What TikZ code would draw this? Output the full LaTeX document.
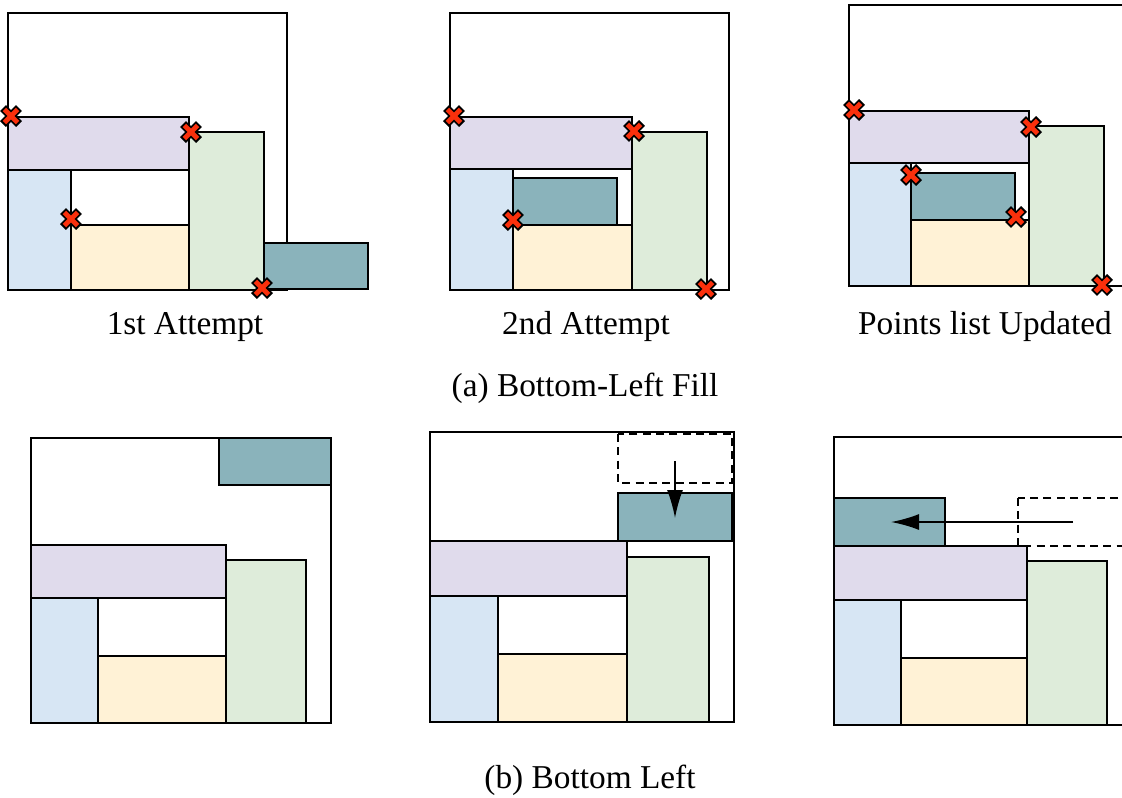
\documentclass[tikz,border=0pt]{standalone}
\usepackage{fontspec}
\setmainfont{Liberation Serif}
\usetikzlibrary{arrows.meta}
\definecolor{lilac}{RGB}{224,219,236}
\definecolor{skyblue}{RGB}{215,230,244}
\definecolor{cream}{RGB}{255,242,214}
\definecolor{mint}{RGB}{222,236,218}
\definecolor{slateteal}{RGB}{138,179,187}
\definecolor{markred}{RGB}{250,48,12}
\tikzset{
  >={Latex[length=21pt,width=12pt]},
  bin/.style={draw=black, line width=1.2pt},
  part/.style={draw=black, line width=1.5pt},
  purplebox/.style={part, fill=lilac},
  bluebox/.style={part, fill=skyblue},
  yellowbox/.style={part, fill=cream},
  greenbox/.style={part, fill=mint},
  tealbox/.style={part, fill=slateteal},
  ghostbox/.style={draw=black, line width=1.2pt, dash pattern=on 6pt off 4pt},
  caption/.style={font=\fontsize{25}{30}\selectfont, inner sep=0pt, anchor=base},
  move/.style={->, line width=1.4pt}
}
% red point marker with black rim
\newcommand{\ptmark}[2]{%
  \draw[shift={(#1,#2)}, line width=6.2pt] (-8,-8) -- (8,8) (-8,8) -- (8,-8);
  \draw[shift={(#1,#2)}, line width=3.6pt, markred] (-6.6,-6.6) -- (6.6,6.6) (-6.6,6.6) -- (6.6,-6.6);
}

\begin{document}
\begin{tikzpicture}[x=0.75pt, y=-0.75pt]
  \useasboundingbox (0,0) rectangle (1122,797);
  \clip (0,0) rectangle (1122,797);

  % (a) 1st attempt
  \draw[bin] (8,13) rectangle (287,290);
  \draw[purplebox] (8,117) rectangle (189,170);
  \draw[bluebox] (8,170) rectangle (71,290);
  \draw[yellowbox] (71,225) rectangle (189,290);
  \draw[greenbox] (189,132) rectangle (264,290);
  \draw[tealbox] (264,243) rectangle (368,289);
  \ptmark{11}{116}
  \ptmark{191}{132}
  \ptmark{71}{219}
  \ptmark{262}{288}

  % (a) 2nd attempt
  \draw[bin] (450,13) rectangle (729,290);
  \draw[purplebox] (450,117) rectangle (632,169);
  \draw[bluebox] (450,169) rectangle (513,290);
  \draw[yellowbox] (513,225) rectangle (632,290);
  \draw[greenbox] (632,132) rectangle (707,290);
  \draw[tealbox] (513,178) rectangle (617,225);
  \ptmark{454}{116}
  \ptmark{634}{131}
  \ptmark{513}{220}
  \ptmark{706}{289}

  % (a) points list updated
  \draw[bin] (849,5) rectangle (1128,286);
  \draw[purplebox] (849,111) rectangle (1029,163);
  \draw[bluebox] (849,163) rectangle (911,286);
  \draw[yellowbox] (911,220) rectangle (1029,286);
  \draw[greenbox] (1029,126) rectangle (1104,286);
  \draw[tealbox] (911,173) rectangle (1015,220);
  \ptmark{854}{110}
  \ptmark{1031}{127}
  \ptmark{911}{175}
  \ptmark{1016}{217}
  \ptmark{1102}{285}

  \node[caption] (first) at (185,334) {1st Attempt};
  \node[caption] (second) at (586,334) {2nd Attempt};
  \node[caption] (updated) at (985,334) {Points list Updated};
  \node[caption] (capa) at (585,396) {(a) Bottom-Left Fill};

  % (b) start
  \draw[bin] (31,438) rectangle (331,723);
  \draw[tealbox] (219,438) rectangle (331,485);
  \draw[purplebox] (31,545) rectangle (226,598);
  \draw[bluebox] (31,598) rectangle (98,723);
  \draw[yellowbox] (98,656) rectangle (226,723);
  \draw[greenbox] (226,560) rectangle (306,723);

  % (b) move down
  \draw[bin] (430,432) rectangle (734,722);
  \draw[ghostbox] (618,434) rectangle (732,483);
  \draw[tealbox] (618,493) rectangle (732,541);
  \draw[purplebox] (430,541) rectangle (627,596);
  \draw[bluebox] (430,596) rectangle (498,722);
  \draw[yellowbox] (498,654) rectangle (627,722);
  \draw[greenbox] (627,557) rectangle (709,722);
  \coordinate (dropfrom) at (675,461);
  \coordinate (dropto) at (675,518);
  \draw[move] (dropfrom) -- (dropto);

  % (b) move left
  \draw[bin] (834,437) rectangle (1134,725);
  \draw[ghostbox] (1018,498) rectangle (1140,546);
  \draw[tealbox] (834,498) rectangle (945,546);
  \draw[purplebox] (834,546) rectangle (1027,600);
  \draw[bluebox] (834,600) rectangle (901,725);
  \draw[yellowbox] (901,658) rectangle (1027,725);
  \draw[greenbox] (1027,561) rectangle (1107,725);
  \coordinate (slidefrom) at (1073,522);
  \coordinate (slideto) at (891,522);
  \draw[move] (slidefrom) -- (slideto);

  \node[caption] (capb) at (590,788) {(b) Bottom Left};
\end{tikzpicture}
\end{document}
